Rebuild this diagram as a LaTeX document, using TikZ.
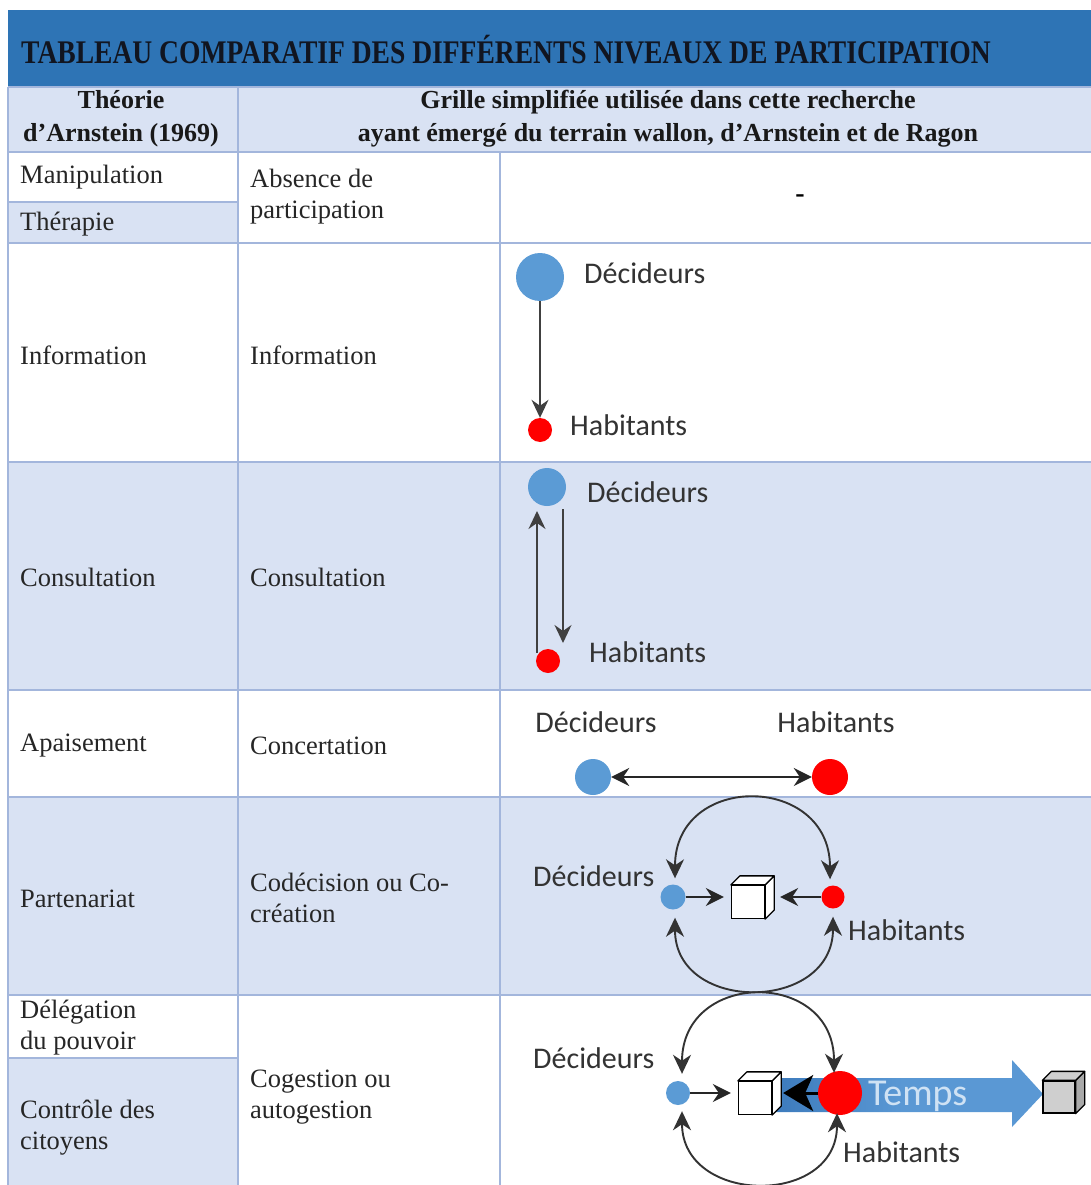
\documentclass[tikz,border=0pt]{standalone}
\usepackage{fontspec}
\setmainfont{Liberation Serif}
\newfontfamily\labfont{Carlito}
\usetikzlibrary{arrows.meta,calc}
\definecolor{titleblue}{HTML}{2E74B5}
\definecolor{rowblue}{HTML}{D9E2F3}
\definecolor{gridline}{HTML}{A3B6DC}
\definecolor{decblue}{HTML}{5B9BD5}
\definecolor{habred}{HTML}{FF0000}
\definecolor{labgray}{HTML}{333333}
\definecolor{tempsblue}{HTML}{CFE2F4}
\definecolor{arrowblue}{HTML}{5A98D4}
\definecolor{arrowdark}{HTML}{3A78BA}
\definecolor{titletext}{HTML}{111520}
\definecolor{cubegray}{HTML}{CFCFCF}
\definecolor{cubegrayside}{HTML}{A9A9A9}
\newcommand{\drawcubefaces}[3]{%
  \filldraw[fill=#3,draw=black,line width=1.3pt,line join=round]
    (#1.north east) -- ++(9,-9) -- ($(#1.south east)+(9,-9)$) -- (#1.south east) -- cycle;
  \filldraw[fill=#2,draw=black,line width=1.3pt,line join=round]
    (#1.north west) -- ++(9,-9) -- ($(#1.north east)+(9,-9)$) -- (#1.north east) -- cycle;
}
\begin{document}
\begin{tikzpicture}[x=1pt,y=-1pt,
  cell/.style={anchor=west,align=left,font=\fontsize{26.5}{31}\selectfont,text=black!85,inner sep=0pt},
  head/.style={align=center,font=\fontsize{26}{33}\selectfont\bfseries,text=black!90,inner sep=0pt},
  lab/.style={font=\labfont\fontsize{30}{36}\selectfont,text=labgray,inner sep=0pt},
  dec/.style={circle,fill=decblue,inner sep=0pt},
  hab/.style={circle,fill=habred,inner sep=0pt},
  conn/.style={draw=black!75,line width=1.5pt,-{Stealth[length=18pt,width=17pt,inset=6pt]}},
  bconn/.style={draw=black!85,line width=2.2pt,-{Stealth[length=18pt,width=18pt,inset=6pt]}},
  arcconn/.style={draw=black!80,line width=1.9pt,{Stealth[length=19pt,width=18pt,inset=6pt]}-{Stealth[length=19pt,width=18pt,inset=6pt]}},
  cubefront/.style={draw=black,line width=1.3pt,minimum width=33pt,minimum height=33pt,inner sep=0pt},
  gridl/.style={draw=gridline,line width=1.2pt}
]
\useasboundingbox (0,0) rectangle (1091,1185);
\fill[white] (0,0) rectangle (1091,1185);
% backgrounds
\fill[titleblue] (8,10) rectangle (1091,87);
\fill[rowblue] (8,87) rectangle (1091,152);
\fill[rowblue] (8,202) rectangle (238,243);
\fill[rowblue] (8,462) rectangle (1091,690);
\fill[rowblue] (8,797) rectangle (1091,995);
\fill[rowblue] (8,1058) rectangle (238,1185);
% grid
\draw[gridl] (8,87) -- (8,1185);
\draw[gridl] (238,87) -- (238,1185);
\draw[gridl] (500,152) -- (500,1185);
\foreach \yy in {87,152,243,462,690,797,995} {\draw[gridl] (8,\yy) -- (1091,\yy);}
\draw[gridl] (8,202) -- (238,202);
\draw[gridl] (8,1058) -- (238,1058);

% title
\node[font=\fontsize{33}{38}\selectfont\bfseries,text=titletext,inner sep=0pt] (title) at (506,50)
  {\scalebox{0.835}[1]{TABLEAU COMPARATIF DES DIFFÉRENTS NIVEAUX DE PARTICIPATION}};
% headers
\node[head] (hA) at (121,119) {Théorie\\d’Arnstein (1969)};
\node[head] (hB) at (668,119) {Grille simplifiée utilisée dans cette recherche\\ayant émergé du terrain wallon, d’Arnstein et de Ragon};

% column texts
\node[cell] (t1a) at (20,177) {Manipulation};
\node[cell] (t1b) at (20,224) {Thérapie};
\node[cell] (g1) at (250,197) {Absence de\\participation};
\node[cell] (t2) at (20,355) {Information};
\node[cell] (g2) at (250,355) {Information};
\node[cell] (t3) at (20,577) {Consultation};
\node[cell] (g3) at (250,577) {Consultation};
\node[cell] (t4) at (20,746) {Apaisement};
\node[cell] (g4) at (250,746) {Concertation};
\node[cell] (t5) at (20,899) {Partenariat};
\node[cell] (g5) at (250,898) {Codécision ou Co-\\création};
\node[cell] (t6a) at (20,1028) {Délégation\\du pouvoir};
\node[cell] (t6b) at (20,1128) {Contrôle des\\citoyens};
\node[cell] (g6) at (250,1097) {Cogestion ou\\autogestion};

% row 1
\node[font=\fontsize{28}{30}\selectfont\bfseries,inner sep=0pt] (nopart) at (800,199) {-};

% row 2 : information
\node[dec,minimum size=48pt] (b2) at (540,277) {};
\node[hab,minimum size=24pt] (r2) at (540,430) {};
\node[lab,anchor=west] (d2) at (584,273) {Décideurs};
\node[lab,anchor=west] (h2) at (570,425) {Habitants};
\draw[conn] (b2) -- (r2);

% row 3 : consultation
\node[dec,minimum size=38pt] (b3) at (547,487) {};
\node[hab,minimum size=24pt] (r3) at (548,661) {};
\node[lab,anchor=west] (d3) at (587,492) {Décideurs};
\node[lab,anchor=west] (h3) at (589,652) {Habitants};
\draw[conn] ($(r3.center)+(-11,-8)$) -- ($(b3.center)+(-10,24)$);
\draw[conn] ($(b3.center)+(16,22)$) -- ($(r3.center)+(15,-18)$);

% row 4 : concertation
\node[dec,minimum size=36pt] (b4) at (593,777) {};
\node[hab,minimum size=36pt] (r4) at (830,777) {};
\node[lab] (d4) at (596,722) {Décideurs};
\node[lab] (h4) at (836,722) {Habitants};
\draw[bconn,{Stealth[length=18pt,width=18pt,inset=6pt]}-{Stealth[length=18pt,width=18pt,inset=6pt]}] (b4) -- (r4);

% row 5 : codecision
\node[cubefront,fill=white] (c5) at (748,902) {};
\drawcubefaces{c5}{white}{white}
\coordinate (c5e) at ($(c5.east)+(9,-4)$);
\node[dec,minimum size=25pt] (b5) at (673,897) {};
\node[hab,minimum size=23pt] (r5) at (833,897) {};
\node[lab,anchor=west] (d5) at (533,876) {Décideurs};
\node[lab,anchor=west] (h5) at (848,930) {Habitants};
\draw[bconn,shorten >=7pt] (b5) -- (b5 -| c5.west);
\draw[bconn,shorten >=6pt] (r5) -- (r5 -| c5e);
\draw[arcconn] ($(b5.north)+(2,-6)$) .. controls +(0,-106) and +(0,-106) .. ($(r5.north)+(-3,-6)$);
\draw[arcconn] ($(b5.south)+(2,8)$) .. controls +(0,96) and +(0,96) .. ($(r5.south)+(0,8)$);

% row 6 : cogestion
\shade[left color=arrowdark,right color=arrowblue,middle color=arrowblue]
  (762,1078) -- (1012,1078) -- (1012,1060) -- (1043,1094) -- (1012,1127) -- (1012,1112) -- (762,1112) -- cycle;
\node[font=\labfont\fontsize{38}{44}\selectfont,text=tempsblue,inner sep=0pt,anchor=west] (temps) at (868,1096) {Temps};
\node[cubefront,fill=white] (c6) at (755,1098) {};
\drawcubefaces{c6}{white}{white}
\coordinate (c6e) at ($(c6.east)+(9,-4)$);
\node[cubefront,fill=cubegray,minimum width=32pt,minimum height=32pt] (g6c) at (1059,1097) {};
\drawcubefaces{g6c}{cubegray}{cubegrayside}
\node[dec,minimum size=24pt] (b6) at (678,1093) {};
\node[hab,minimum size=44pt] (r6) at (840,1093) {};
\node[lab,anchor=west] (d6) at (533,1058) {Décideurs};
\node[lab,anchor=west] (h6) at (843,1152) {Habitants};
\draw[bconn,shorten >=7pt] (b6) -- (b6 -| c6.west);
\draw[draw=black,line width=3pt,-{Stealth[length=30pt,width=36pt,inset=8pt]},shorten >=2pt] (r6) -- (r6 -| c6e);
\draw[arcconn] ($(b6.north)+(4,-7)$) .. controls +(0,-104) and +(0,-104) .. ($(r6.north)+(-6,2)$);
\draw[arcconn] ($(b6.south)+(4,6)$) .. controls +(0,94) and +(0,94) .. ($(r6.south)+(-3,-2)$);
\end{tikzpicture}
\end{document}
